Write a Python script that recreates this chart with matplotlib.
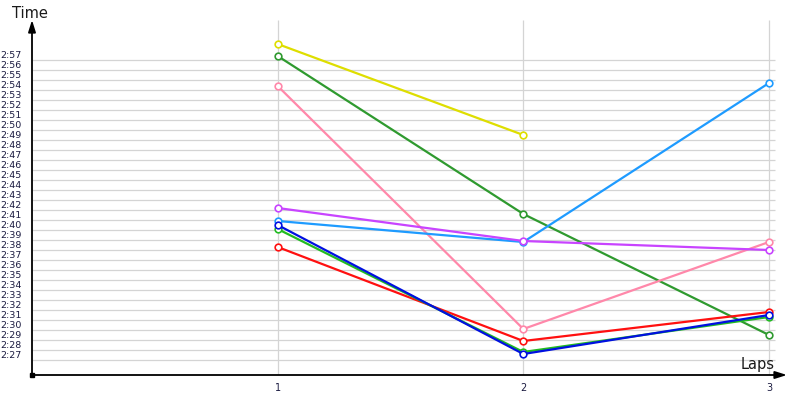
import matplotlib
matplotlib.use("Agg")
import matplotlib.pyplot as plt
import matplotlib.transforms as mtransforms

# ---- data (lap times in seconds) ----
laps = [1, 2, 3]
yellow = [178.6, 169.5]
dark_green = [177.4, 161.6, 149.5]
pink = [174.4, 150.1, 158.8]
magenta = [162.2, 158.9, 158.0]
light_blue = [160.9, 158.8, 174.7]
red = [158.3, 148.9, 151.8]
green = [160.1, 147.8, 151.3]
blue = [160.5, 147.6, 151.5]

series = [
    (yellow, "#dede00"),
    (dark_green, "#2f9a2f"),
    (pink, "#ff88aa"),
    (light_blue, "#1e9bff"),
    (magenta, "#c844ff"),
    (red, "#ff1010"),
    (green, "#22bb22"),
    (blue, "#0010e0"),
]

y_tick_values = list(range(147, 178))
y_tick_labels = ["%d:%02d" % (v // 60, v % 60) for v in y_tick_values]
x_tick_labels = ["1", "2", "3"]

W, H = 800, 400
fig = plt.figure(figsize=(8, 4), dpi=100)
ax_left, ax_right = 32, 790
ax_bottom_px, ax_top_px = 375, 5
ax = fig.add_axes([ax_left / W, 1 - ax_bottom_px / H,
                   (ax_right - ax_left) / W, (ax_bottom_px - ax_top_px) / H])
px_per_lap = (769 - 32) / 3.0
xmax = (ax_right - ax_left) / px_per_lap
ymin = 147 - (375 - 360) / 10.0
ymax = ymin + (ax_bottom_px - ax_top_px) / 10.0
ax.set_xlim(0, xmax)
ax.set_ylim(ymin, ymax)
ax.axis("off")

grid_right = (775 - 32) / px_per_lap
y_top_vgrid = 147 + (360 - 20) / 10.0
ax.hlines(y_tick_values, 0, grid_right, colors="#d4d4d4", linewidth=0.9, zorder=1)
ax.vlines(laps, ymin, y_top_vgrid, colors="#d4d4d4", linewidth=0.9, zorder=1)

# axes with arrows
x_arrow_end = (787 - 32) / px_per_lap
y_arrow_end = 147 + (360 - 20) / 10.0
ax.annotate("", xy=(x_arrow_end, ymin), xytext=(0, ymin),
            arrowprops=dict(arrowstyle="-|>,head_length=0.7,head_width=0.22",
                            color="black", lw=1.3, shrinkA=0, shrinkB=0),
            annotation_clip=False, zorder=5)
ax.annotate("", xy=(0, y_arrow_end), xytext=(0, ymin),
            arrowprops=dict(arrowstyle="-|>,head_length=0.7,head_width=0.22",
                            color="black", lw=1.3, shrinkA=0, shrinkB=0),
            annotation_clip=False, zorder=5)
ax.plot([0], [ymin], marker="s", color="black", markersize=3.5, clip_on=False, zorder=6)

for vals, col in series:
    ax.plot(laps[:len(vals)], vals, color=col, linewidth=1.6, marker="o",
            markersize=4.8, markerfacecolor="white", markeredgecolor=col,
            markeredgewidth=1.2, zorder=3, clip_on=False)

# y tick labels (sitting just above their grid line)
off = mtransforms.ScaledTranslation(-10 / 100, 0, fig.dpi_scale_trans)
trans_y = mtransforms.blended_transform_factory(ax.transAxes, ax.transData) + off
for v, lab in zip(y_tick_values, y_tick_labels):
    ax.text(0, v, lab, transform=trans_y, ha="right", va="bottom",
            fontsize=6.8, color="#1a1a40", family="DejaVu Sans")

# x tick labels
offx = mtransforms.ScaledTranslation(0, -13 / 100, fig.dpi_scale_trans)
trans_x = mtransforms.blended_transform_factory(ax.transData, ax.transAxes) + offx
for xv, lab in zip(laps, x_tick_labels):
    ax.text(xv, 0, lab, transform=trans_x, ha="center", va="center",
            fontsize=7, color="#1a1a40")

fig.text(30 / W, 1 - 13 / H, "Time", ha="center", va="center", fontsize=10.5, color="#1a1a1a")
fig.text(758 / W, 1 - 365 / H, "Laps", ha="center", va="center", fontsize=10.5, color="#1a1a1a")

fig.savefig("out.png", dpi=100)
